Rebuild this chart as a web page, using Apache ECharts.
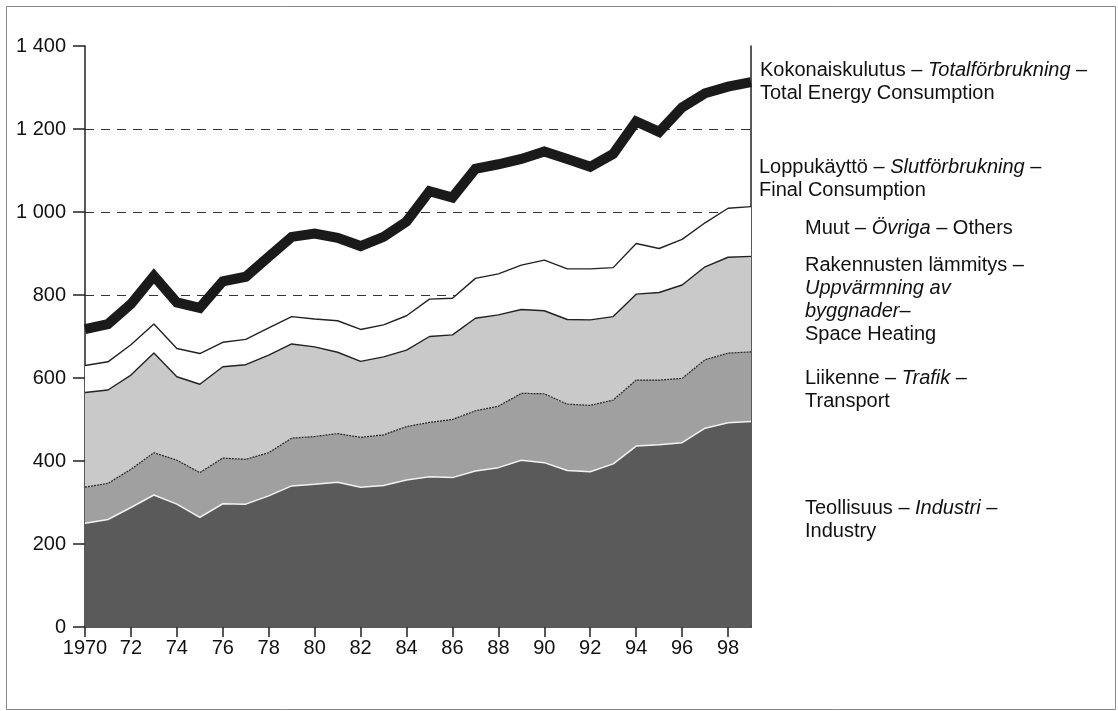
<!DOCTYPE html>
<html>
<head>
<meta charset="utf-8">
<script src="https://cdn.jsdelivr.net/npm/echarts@6/dist/echarts.min.js"></script>
<style>
html,body{margin:0;padding:0;background:#fff;}
#c{width:1118px;height:711px;}
</style>
</head>
<body>
<div id="c"></div>
<script>
const years = ['1970','1971','1972','1973','1974','1975','1976','1977','1978','1979',
  '1980','1981','1982','1983','1984','1985','1986','1987','1988','1989',
  '1990','1991','1992','1993','1994','1995','1996','1997','1998','1999'];
const industry  = [250,259,288,318,296,264,297,296,316,340,344,349,337,341,354,362,360,376,384,402,396,377,374,393,436,439,444,479,492,495];
const transport = [87,87,92,102,106,108,110,108,104,115,115,117,120,122,129,131,140,145,148,161,166,160,160,154,159,156,155,165,168,168];
const heating   = [228,225,227,240,201,213,220,228,235,227,216,196,183,188,184,207,204,223,220,202,200,204,206,201,207,211,225,224,231,230];
const others    = [65,68,73,70,68,74,59,61,66,66,67,76,77,77,83,90,88,96,99,107,122,122,123,118,122,106,110,106,118,120];
const total     = [718,730,778,846,782,769,833,844,892,940,948,938,918,940,977,1050,1035,1104,1115,1128,1146,1128,1109,1140,1218,1193,1252,1286,1302,1313];

const FONT = 'Liberation Sans';
const FS = 20;
const chart = echarts.init(document.getElementById('c'), null, {renderer:'canvas'});

function label(x, y, parts) {
  return {type:'text', left:x, top:y, z:10,
    style:{text:parts, font:FS + 'px "' + FONT + '"', fill:'#111',
      rich:{n:{fontFamily:FONT, fontSize:FS, fill:'#111', lineHeight:23},
            i:{fontFamily:FONT, fontSize:FS, fontStyle:'italic', fill:'#111', lineHeight:23}}}};
}

const option = {
  animation:false,
  backgroundColor:'#fff',
  grid:{left:85, right:367, top:46, bottom:84, containLabel:false},
  xAxis:{type:'category', data:years, boundaryGap:false,
    axisLine:{lineStyle:{color:'#222', width:1.5}},
    axisTick:{show:true, interval:1, length:10, lineStyle:{color:'#222', width:1.5}},
    axisLabel:{interval:1, margin:11, color:'#111', fontFamily:FONT, fontSize:FS,
      formatter:v => v === '1970' ? '1970' : v.slice(2)},
    splitLine:{show:false}},
  yAxis:[{type:'value', min:0, max:1400, interval:200,
    axisLine:{show:true, lineStyle:{color:'#222', width:1.5}},
    axisTick:{show:true, length:12, lineStyle:{color:'#222', width:1.5}},
    axisLabel:{margin:19, color:'#111', fontFamily:FONT, fontSize:FS,
      formatter:v => v >= 1000 ? Math.floor(v/1000) + ' ' + String(v%1000).padStart(3,'0') : String(v)},
    splitLine:{show:true, lineStyle:{type:[9,7], width:1.2,
      color:['rgba(0,0,0,0)','rgba(0,0,0,0)','rgba(0,0,0,0)','rgba(0,0,0,0)','#333','#333','#333','rgba(0,0,0,0)']}}},
   {type:'value', min:0, max:1400, interval:200, position:'right',
    axisLine:{show:true, lineStyle:{color:'#222', width:1.5}},
    axisTick:{show:false}, axisLabel:{show:false}, splitLine:{show:false}}],
  series:[
    {name:'Industry', type:'line', stack:'a', data:industry, symbol:'none',
      lineStyle:{color:'#f2f2f2', width:1.5}, areaStyle:{color:'#5a5a5a', opacity:1}},
    {name:'Transport', type:'line', stack:'a', data:transport, symbol:'none',
      lineStyle:{color:'#222', width:1.2, type:[2,1]}, areaStyle:{color:'#a0a0a0', opacity:1}},
    {name:'Space Heating', type:'line', stack:'a', data:heating, symbol:'none',
      lineStyle:{color:'#222', width:1.4}, areaStyle:{color:'#c9c9c9', opacity:1}},
    {name:'Others', type:'line', stack:'a', data:others, symbol:'none',
      lineStyle:{color:'#222', width:1.4}, areaStyle:{color:'#ffffff', opacity:1}},
    {name:'Total', type:'line', data:total, symbol:'none', z:5,
      lineStyle:{color:'#1a1a1a', width:10, join:'miter'}}
  ],
  graphic:[
    {type:'rect', left:4, top:4, z:-1, silent:true,
      shape:{width:1109, height:703}, style:{fill:'none', stroke:'#888', lineWidth:1}},
    label(760, 60, '{n|Kokonaiskulutus – }{i|Totalförbrukning}{n| –}\n{n|Total Energy Consumption}'),
    label(759, 157, '{n|Loppukäyttö – }{i|Slutförbrukning}{n| –}\n{n|Final Consumption}'),
    label(805, 218, '{n|Muut – }{i|Övriga}{n| – Others}'),
    label(805, 255, '{n|Rakennusten lämmitys –}\n{i|Uppvärmning av}\n{i|byggnader}{n|–}\n{n|Space Heating}'),
    label(805, 368, '{n|Liikenne – }{i|Trafik}{n| –}\n{n|Transport}'),
    label(805, 498, '{n|Teollisuus – }{i|Industri}{n| –}\n{n|Industry}')
  ]
};
chart.setOption(option);
</script>
</body>
</html>
